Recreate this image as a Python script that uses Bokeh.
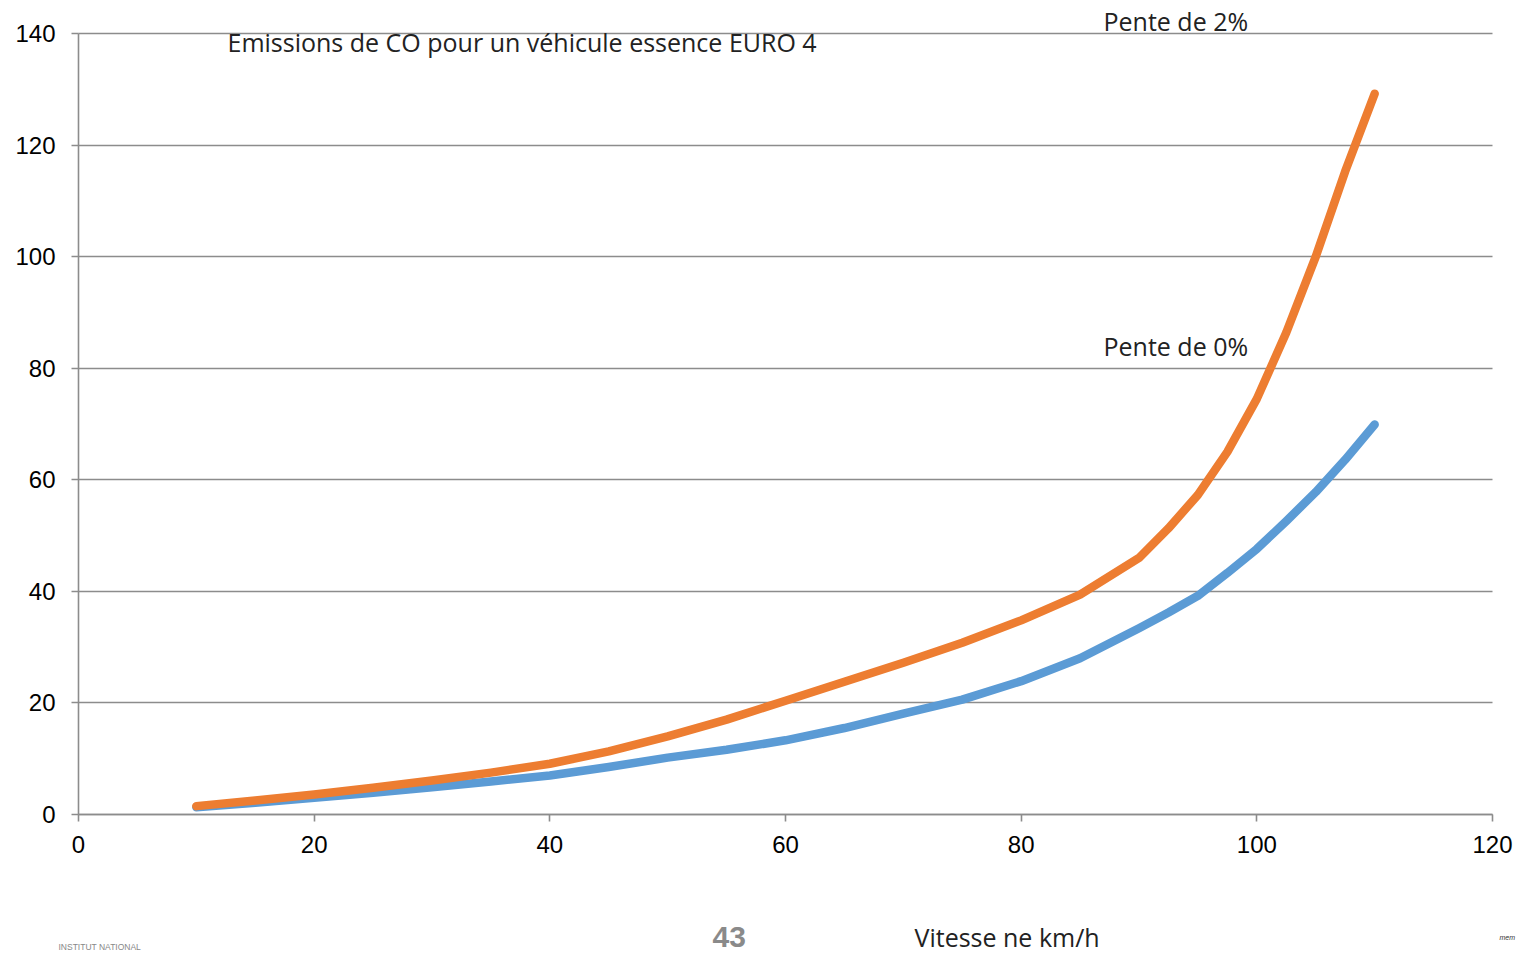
from bokeh.plotting import figure
from bokeh.models import Label, FixedTicker, Range1d
from bokeh.embed import file_html
from bokeh.resources import INLINE

# Data (speed in km/h, CO emissions)
vitesse = [10, 15, 20, 25, 30, 35, 40, 45, 50, 55, 60, 65, 70, 75, 80, 85, 90, 92.5, 95, 97.5, 100, 102.5, 105, 107.5, 110]
pente_0 = [1.3, 2.1, 3.0, 3.9, 4.9, 5.9, 7.0, 8.5, 10.2, 11.6, 13.3, 15.5, 18.1, 20.6, 23.9, 28.0, 33.4, 36.2, 39.2, 43.3, 47.6, 52.6, 57.8, 63.6, 69.9]
pente_2 = [1.5, 2.5, 3.6, 4.8, 6.1, 7.5, 9.1, 11.3, 14.0, 17.0, 20.4, 23.8, 27.2, 30.8, 34.8, 39.4, 46.0, 51.3, 57.3, 65.0, 74.5, 86.4, 100.0, 115.3, 129.2]
x_ticks = [0, 20, 40, 60, 80, 100, 120]
y_ticks = [0, 20, 40, 60, 80, 100, 120, 140]
x_min, x_max = 0, 120
y_min, y_max = 0, 140

# Layout (pixels): plot area of the reference
W, H = 1519, 953
left, right, top, bottom = 78, 1492, 33, 814
sx = (right - left) / (x_max - x_min)
sy = (bottom - top) / (y_max - y_min)

p = figure(width=W, height=H, output_backend="svg", toolbar_location=None, title=None,
           x_range=Range1d(x_min - left / sx, x_max + (W - right) / sx),
           y_range=Range1d(y_min - (H - bottom) / sy, y_max + top / sy),
           min_border=0, min_border_left=0, min_border_right=0,
           min_border_top=0, min_border_bottom=0)
p.outline_line_color = None
p.background_fill_color = "white"
p.border_fill_color = "white"

grey = "#8c8c8c"
p.xgrid.grid_line_color = None
p.ygrid.grid_line_color = grey
p.ygrid.grid_line_width = 1.6
p.ygrid.cross_bounds = (x_min, x_max)
p.ygrid.bounds = (y_min, y_max)

p.xaxis.ticker = FixedTicker(ticks=x_ticks)
p.yaxis.ticker = FixedTicker(ticks=y_ticks)
p.xaxis.fixed_location = 0
p.yaxis.fixed_location = 0
p.xaxis.bounds = (x_min, x_max)
p.yaxis.bounds = (y_min, y_max)
for ax in (p.xaxis, p.yaxis):
    ax.axis_line_color = grey
    ax.axis_line_width = 1.6
    ax.major_tick_line_color = grey
    ax.major_tick_line_width = 1.6
    ax.major_tick_out = 7
    ax.major_tick_in = 0
    ax.minor_tick_line_color = None
    ax.major_label_text_font = "Liberation Sans"
    ax.major_label_text_font_size = "24px"
    ax.major_label_text_color = "#000000"
p.xaxis.major_label_standoff = 14
p.yaxis.major_label_standoff = 16

p.line(vitesse, pente_0, line_color="#5B9BD5", line_width=8.5, line_cap="round", line_join="round")
p.line(vitesse, pente_2, line_color="#ED7D31", line_width=8.5, line_cap="round", line_join="round")

def lab(text, px, baseline, size=25, color="#222222", font="Open Sans", style="normal"):
    # px / baseline: page pixel position of the text start and its baseline
    p.add_layout(Label(x=px, y=H - baseline + 0.45 * size, x_units="screen", y_units="screen",
                       text=text, text_font=font, text_font_size=f"{size}px",
                       text_color=color, text_font_style=style, text_baseline="alphabetic"))

lab("Emissions de CO pour un véhicule essence EURO 4", 227, 53)
lab("Pente de 2%", 1103, 32)
lab("Pente de 0%", 1103, 357)
lab("Vitesse ne km/h", 914, 948)
lab("43", 712, 950, size=30, color="#8a8a8a", font="Liberation Sans", style="bold")
lab("INSTITUT NATIONAL", 58, 950, size=8.5, color="#888888", font="Liberation Sans")
lab("mem", 1499, 940, size=7, color="#333333", font="Liberation Sans", style="italic")

open("out.html", "w").write(file_html(p, INLINE))
